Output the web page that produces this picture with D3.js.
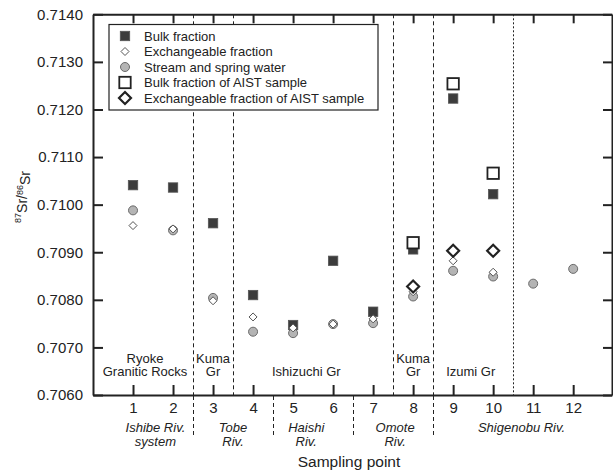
<!DOCTYPE html>
<html>
<head>
<meta charset="utf-8">
<script src="https://cdn.jsdelivr.net/npm/d3@7"></script>
<style>
  body { margin: 0; background: #fff; }
  svg { display: block; font-family: "Liberation Sans", Arial, sans-serif; }
  .axis path, .axis line { stroke: #222; stroke-width: 2; }
  .axis text { fill: #222; font-size: 15px; font-family: "Liberation Sans", Arial, sans-serif; }
</style>
</head>
<body>
<div id="chart"></div>
<script>
// sampling points 1..12
var points = [1, 2, 3, 4, 5, 6, 7, 8, 9, 10, 11, 12];
var bulk = [0.71041, 0.71036, 0.70961, 0.70810, 0.70747, 0.70882, 0.70775, 0.70906, 0.71223, 0.71022, null, null];
var exch = [0.70956, 0.70949, 0.70798, 0.70764, 0.70741, 0.70749, 0.70760, 0.70817, 0.70882, 0.70858, null, null];
var water = [0.70988, 0.70946, 0.70804, 0.70733, 0.70730, 0.70749, 0.70751, 0.70807, 0.70861, 0.70849, 0.70834, 0.70865];
var aistPoints = [8, 9, 10];
var aistBulk = [0.70920, 0.71254, 0.71066];
var aistExch = [0.70828, 0.70903, 0.70903];

var yTicks = [0.7060, 0.7070, 0.7080, 0.7090, 0.7100, 0.7110, 0.7120, 0.7130, 0.7140];

// boundaries
var dashedInside = [2.5, 3.5, 7.5, 8.5];
var dottedInside = [10.5];
var dashedBelow = [2.5, 4.5, 6.5, 8.5];

var geoLabels = [
  {x: 1.3, lines: ["Ryoke", "Granitic Rocks"]},
  {x: 3, lines: ["Kuma", "Gr"]},
  {x: 5.33, lines: ["Ishizuchi Gr"]},
  {x: 8, lines: ["Kuma", "Gr"]},
  {x: 9.44, lines: ["Izumi Gr"]}
];
var riverLabels = [
  {x: 1.56, lines: ["Ishibe Riv.", "system"]},
  {x: 3.5, lines: ["Tobe", "Riv."]},
  {x: 5.33, lines: ["Haishi", "Riv."]},
  {x: 7.55, lines: ["Omote", "Riv."]},
  {x: 10.71, lines: ["Shigenobu Riv."]}
];

var legendItems = ["Bulk fraction", "Exchangeable fraction", "Stream and spring water",
                   "Bulk fraction of AIST sample", "Exchangeable fraction of AIST sample"];

var W = 613, H = 471;
var margin = {top: 14.3, right: 1, bottom: 76, left: 93};
var width = W - margin.left - margin.right,
    height = H - margin.top - margin.bottom;

var svg = d3.select("#chart").append("svg")
    .attr("width", W)
    .attr("height", H);

var g = svg.append("g")
    .attr("transform", "translate(" + margin.left + "," + margin.top + ")");

var x = d3.scaleLinear().domain([0, 12.97]).range([0, width]);
var y = d3.scaleLinear().domain([0.7060, 0.7140]).range([height, 0]);

// vertical boundaries, snapped to pixel centres so they stay dark
function px(v) { return Math.round(x(v) + margin.left) - margin.left + 0.5; }

g.selectAll(".vdash").data(dashedInside).enter().append("line")
  .attr("x1", px).attr("x2", px)
  .attr("y1", 0).attr("y2", height)
  .attr("stroke", "#222").attr("stroke-width", 1)
  .attr("stroke-dasharray", "4,3");
g.selectAll(".vdot").data(dottedInside).enter().append("line")
  .attr("x1", px).attr("x2", px)
  .attr("y1", 0).attr("y2", height)
  .attr("stroke", "#222").attr("stroke-width", 1)
  .attr("stroke-dasharray", "2,2");
g.selectAll(".vbelow").data(dashedBelow).enter().append("line")
  .attr("x1", px).attr("x2", px)
  .attr("y1", height + 1).attr("y2", height + 42)
  .attr("stroke", "#222").attr("stroke-width", 1)
  .attr("stroke-dasharray", "4,3");

// axes
g.append("g").attr("class", "axis")
  .attr("transform", "translate(0," + height + ")")
  .call(d3.axisBottom(x).tickValues(points).tickSizeInner(-10).tickSizeOuter(0).tickPadding(7));
g.append("g").attr("class", "axis")
  .call(d3.axisTop(x).tickValues(points).tickSizeInner(-9).tickSizeOuter(0).tickFormat(""));
g.append("g").attr("class", "axis")
  .call(d3.axisLeft(y).tickValues(yTicks).tickSizeInner(-10).tickSizeOuter(0).tickPadding(10)
    .tickFormat(d3.format(".4f")));
g.append("g").attr("class", "axis")
  .attr("transform", "translate(" + width + ",0)")
  .call(d3.axisRight(y).tickValues(yTicks).tickSizeInner(-9).tickSizeOuter(0).tickFormat(""));

// geological unit labels
geoLabels.forEach(function(l) {
  var t = g.append("text")
    .attr("text-anchor", "middle")
    .style("font-size", "13px").style("fill", "#222");
  var base = l.lines.length == 2 ? height - 31.5 : height - 19;
  l.lines.forEach(function(s, i) {
    t.append("tspan").attr("x", x(l.x)).attr("y", base + i * 12.5).text(s);
  });
});

// river labels
riverLabels.forEach(function(l) {
  var t = g.append("text")
    .attr("text-anchor", "middle")
    .style("font-size", "13px").style("font-style", "italic").style("fill", "#222");
  l.lines.forEach(function(s, i) {
    t.append("tspan").attr("x", x(l.x)).attr("y", height + 37 + i * 14).text(s);
  });
});

// axis titles
svg.append("text")
  .attr("x", 349).attr("y", 466.5)
  .attr("text-anchor", "middle")
  .style("font-size", "15.5px").style("fill", "#222")
  .text("Sampling point");

var yl = svg.append("text")
  .attr("transform", "translate(25,197) rotate(-90)")
  .attr("text-anchor", "middle")
  .style("font-size", "14px").style("fill", "#222");
yl.append("tspan").attr("dy", "-0.45em").style("font-size", "9px").text("87");
yl.append("tspan").attr("dy", "0.45em").text("Sr/");
yl.append("tspan").attr("dy", "-0.45em").style("font-size", "9px").text("86");
yl.append("tspan").attr("dy", "0.45em").text("Sr");

// symbol drawers
var diamond = function(s) { return "M0," + (-s) + "L" + s + ",0L0," + s + "L" + (-s) + ",0Z"; };

function drawWater(sel) {
  sel.append("circle").attr("r", 4.5)
    .attr("fill", "#b4b4b4").attr("stroke", "#6a6a6a").attr("stroke-width", 1);
}
function drawBulk(sel) {
  sel.append("rect").attr("x", -4.7).attr("y", -4.7).attr("width", 9.4).attr("height", 9.4)
    .attr("fill", "#3c3c3c").attr("stroke", "#555").attr("stroke-width", 0.8);
}
function drawExch(sel) {
  sel.append("path").attr("d", diamond(4))
    .attr("fill", "#fff").attr("stroke", "#555").attr("stroke-width", 1);
}
function drawAistBulk(sel) {
  sel.append("rect").attr("x", -5.7).attr("y", -5.7).attr("width", 11.4).attr("height", 11.4)
    .attr("fill", "#fff").attr("stroke", "#222").attr("stroke-width", 1.8);
}
function drawAistExch(sel) {
  sel.append("path").attr("d", diamond(6))
    .attr("fill", "#fff").attr("stroke", "#222").attr("stroke-width", 2.2);
}

function plotSeries(pts, vals, drawer) {
  var data = pts.map(function(p, i) { return {p: p, v: vals[i]}; })
    .filter(function(d) { return d.v != null; });
  g.append("g").selectAll("g").data(data).enter().append("g")
    .attr("transform", function(d) { return "translate(" + x(d.p) + "," + y(d.v) + ")"; })
    .call(drawer);
}

plotSeries(points, water, drawWater);
plotSeries(points, bulk, drawBulk);
plotSeries(points, exch, drawExch);
plotSeries(aistPoints, aistBulk, drawAistBulk);
plotSeries(aistPoints, aistExch, drawAistExch);

// legend
var leg = svg.append("g").attr("transform", "translate(109,24.5)");
leg.append("rect").attr("width", 269).attr("height", 85.5)
  .attr("fill", "#fff").attr("stroke", "#222").attr("stroke-width", 1.2);
var drawers = [drawBulk, drawExch, drawWater, drawAistBulk, drawAistExch];
legendItems.forEach(function(s, i) {
  var row = leg.append("g").attr("transform", "translate(0," + (11.5 + i * 15.5) + ")");
  row.append("g").attr("transform", "translate(16,0)").call(drawers[i]);
  row.append("text").attr("x", 35).attr("y", 4.5)
    .style("font-size", "13px").style("fill", "#222").text(s);
});
</script>
</body>
</html>
